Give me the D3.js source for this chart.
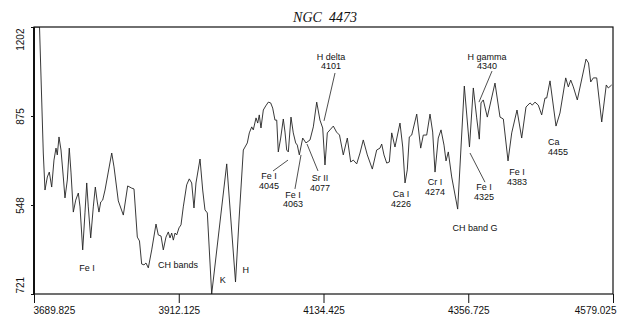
<!DOCTYPE html>
<html>
<head>
<meta charset="utf-8">
<script src="https://cdn.jsdelivr.net/npm/d3@7"></script>
<style>
  body { margin: 0; background: #fff; }
  svg text { font-family: "Liberation Sans", Arial, sans-serif; fill: #111; }
</style>
</head>
<body>
<div id="chart"></div>
<script>
// spectrum of NGC 4473, wavelength (A) and flux
const wavelength = [
  3691.4, 3698.3, 3704.1, 3706.7, 3710.3, 3713.3, 3717.0, 3720.5, 3723.6, 3725.6,
  3728.2, 3731.3, 3734.8, 3737.4, 3741.0, 3744.0, 3746.6, 3750.2, 3753.9, 3757.9,
  3760.5, 3764.6, 3768.1, 3770.8, 3773.2, 3776.9, 3780.9, 3784.0, 3787.0, 3789.6,
  3792.3, 3795.3, 3798.9, 3803.9, 3809.2, 3812.7, 3819.3, 3827.0, 3833.7, 3839.9,
  3843.4, 3848.5, 3851.8, 3855.2, 3858.8, 3861.8, 3865.4, 3870.6, 3877.2, 3880.7,
  3884.9, 3888.4, 3892.5, 3896.1, 3898.7, 3901.3, 3903.8, 3906.4, 3909.0, 3912.5,
  3915.6, 3919.1, 3924.3, 3928.3, 3932.0, 3935.5, 3938.6, 3944.8, 3948.9, 3952.4,
  3956.0, 3962.7, 3985.8, 3999.3, 4004.7, 4011.3, 4013.9, 4017.4, 4020.5, 4024.2,
  4026.6, 4030.8, 4033.4, 4035.8, 4038.4, 4042.0, 4045.7, 4049.7, 4053.3, 4056.4,
  4059.9, 4062.6, 4065.0, 4068.7, 4072.7, 4075.3, 4077.9, 4080.4, 4084.5, 4088.0,
  4091.7, 4094.2, 4097.3, 4102.5, 4107.5, 4113.7, 4118.8, 4124.0, 4129.0, 4133.2,
  4136.7, 4140.3, 4144.4, 4149.5, 4154.4, 4159.0, 4164.8, 4171.0, 4176.2, 4180.2,
  4185.4, 4190.5, 4195.5, 4201.7, 4209.4, 4216.1, 4221.2, 4223.8, 4227.3, 4231.5,
  4235.5, 4239.2, 4244.2, 4251.9, 4256.1, 4259.6, 4263.1, 4266.2, 4269.9, 4277.6,
  4283.7, 4287.7, 4292.9, 4298.0, 4302.1, 4305.7, 4310.7, 4314.9, 4319.5, 4322.6,
  4326.1, 4331.3, 4340.5, 4350.7, 4358.6, 4364.5, 4369.7, 4373.7, 4376.3, 4379.8,
  4386.0, 4397.8, 4405.5, 4410.6, 4417.8, 4423.5, 4431.6, 4438.8, 4445.4, 4451.6,
  4455.1, 4459.2, 4464.3, 4469.5, 4474.6, 4477.2, 4482.3, 4491.5, 4497.6, 4506.4,
  4510.4, 4514.1, 4518.1, 4524.2, 4537.6, 4541.4, 4544.8, 4548.8, 4554.0, 4561.7,
  4568.7, 4571.8, 4577.0
];
const flux = [
  1202, 1202, 739, 603, 651, 669, 614, 713, 757, 732,
  798, 750, 651, 574, 640, 757, 669, 522, 566, 592,
  541, 383, 519, 629, 541, 427, 541, 614, 559, 522,
  559, 566, 603, 669, 739, 688, 563, 511, 618, 610,
  607, 430, 416, 331, 328, 335, 317, 383, 478, 438,
  434, 383, 430, 449, 427, 445, 419, 445, 438, 464,
  475, 541, 622, 644, 629, 537, 629, 717, 603, 530,
  519, 221, 699, 265, 493, 750, 761, 776, 813, 835,
  824, 868, 849, 879, 831, 897, 912, 926, 923, 904,
  860, 860, 743, 794, 864, 816, 750, 743, 871, 813,
  776, 768, 732, 794, 776, 787, 835, 926, 860, 831,
  695, 813, 824, 838, 816, 805, 732, 794, 706, 713,
  699, 739, 787, 732, 680, 750, 757, 772, 732, 702,
  706, 813, 761, 849, 761, 629, 677, 798, 805, 882,
  757, 805, 805, 882, 816, 669, 794, 824, 768, 710,
  743, 651, 533, 985, 761, 978, 868, 790, 923, 934,
  871, 996, 871, 864, 710, 813, 897, 794, 908, 923,
  915, 926, 915, 879, 941, 941, 1004, 838, 886, 1015,
  982, 1007, 982, 934, 1084, 1070, 1000, 1015, 1015, 853,
  989, 978, 989
];

const xTicks = [3689.825, 3912.125, 4134.425, 4356.725, 4579.025];
const xTickLabels = ["3689.825", "3912.125", "4134.425", "4356.725", "4579.025"];
const yTicks = [1202, 875, 548, 221];
const yTickLabels = ["1202", "875", "548", "721"];

// line identifications: text lines, text anchor (wavelength, flux), optional leader line
const lineLabels = [
  {text: ["Fe I"], w: 3771.2, f: 307},
  {text: ["CH bands"], w: 3910.9, f: 315},
  {text: ["K"], w: 3979.6, f: 261},
  {text: ["H"], w: 4015.0, f: 298},
  {text: ["Fe I", "4045"], w: 4050.7, f: 643, lead: [4056.9, 673, 4079.9, 713]},
  {text: ["Fe I", "4063"], w: 4087.6, f: 574, lead: [4090.6, 607, 4099.9, 732]},
  {text: ["Sr II", "4077"], w: 4129.0, f: 636, lead: [4126.0, 673, 4109.1, 772]},
  {text: ["H delta", "4101"], w: 4145.9, f: 1081, lead: [4152.1, 1033, 4135.2, 857]},
  {text: ["Ca I", "4226"], w: 4253.4, f: 576},
  {text: ["Cr I", "4274"], w: 4305.6, f: 621},
  {text: ["CH band G"], w: 4367.0, f: 452},
  {text: ["Fe I", "4325"], w: 4380.9, f: 603, lead: [4382.4, 632, 4359.4, 739]},
  {text: ["Fe I", "4383"], w: 4431.6, f: 658},
  {text: ["H gamma", "4340"], w: 4385.5, f: 1081, lead: [4393.2, 1040, 4373.2, 926]},
  {text: ["Ca", "4455"], w: 4479.2, f: 768, anchor: "start"}
];

const width = 627, height = 319;
const margin = {top: 27, right: 14, bottom: 25, left: 34};

const svg = d3.select("#chart")
  .append("svg")
  .attr("width", width)
  .attr("height", height);

const x = d3.scaleLinear()
  .domain([xTicks[0], xTicks[xTicks.length - 1]])
  .range([margin.left, width - margin.right]);

const y = d3.scaleLinear()
  .domain([221, 1202])
  .range([height - margin.bottom, margin.top]);

svg.append("clipPath").attr("id", "plot-clip")
  .append("rect")
  .attr("x", margin.left).attr("y", margin.top)
  .attr("width", width - margin.left - margin.right)
  .attr("height", height - margin.top - margin.bottom);

// title
svg.append("text")
  .attr("x", 325).attr("y", 22)
  .attr("text-anchor", "middle")
  .style("font-family", "'Liberation Serif', 'Times New Roman', serif")
  .style("font-style", "italic")
  .style("font-size", "14px")
  .style("white-space", "pre")
  .text("NGC  4473");

// spectrum
const points = wavelength.map((w, i) => [w, flux[i]]);
const line = d3.line().x(d => x(d[0])).y(d => y(d[1]));

svg.append("path")
  .attr("clip-path", "url(#plot-clip)")
  .attr("fill", "none")
  .attr("stroke", "#222")
  .attr("stroke-width", 0.9)
  .attr("stroke-linejoin", "round")
  .attr("d", line(points));

// frame
svg.append("rect")
  .attr("x", margin.left).attr("y", margin.top)
  .attr("width", width - margin.left - margin.right)
  .attr("height", height - margin.top - margin.bottom)
  .attr("fill", "none")
  .attr("stroke", "#111")
  .attr("stroke-width", 1.2);

svg.append("line")
  .attr("x1", margin.left).attr("x2", margin.left)
  .attr("y1", margin.top).attr("y2", height - margin.bottom)
  .attr("stroke", "#111").attr("stroke-width", 2);

// x axis
const xAxis = d3.axisBottom(x)
  .tickValues(xTicks)
  .tickSize(9)
  .tickFormat((d, i) => xTickLabels[i]);

const gx = svg.append("g")
  .attr("transform", `translate(0,${height - margin.bottom})`)
  .call(xAxis);
gx.select(".domain").remove();
gx.selectAll(".tick line").attr("stroke", "#111");
gx.selectAll(".tick text")
  .attr("y", 13)
  .style("font-size", "10px")
  .attr("text-anchor", (d, i) => i === 0 ? "start" : (i === xTicks.length - 1 ? "end" : "middle"))
  .attr("dx", (d, i) => i === 0 ? -1 : (i === xTicks.length - 1 ? 3 : 0));

// y axis
const yAxis = d3.axisLeft(y)
  .tickValues(yTicks)
  .tickSize(3)
  .tickFormat((d, i) => yTickLabels[i]);

const gy = svg.append("g")
  .attr("transform", `translate(${margin.left},0)`)
  .call(yAxis);
gy.select(".domain").remove();
gy.selectAll(".tick line").attr("stroke", "#111");
gy.selectAll(".tick text")
  .attr("x", null).attr("dy", null)
  .attr("transform", "translate(-10,0) rotate(-90)")
  .style("font-size", "10px")
  .attr("text-anchor", (d, i) => i === 0 ? "end" : (i === yTicks.length - 1 ? "start" : "middle"))
  .attr("x", (d, i) => i === 0 ? -1 : (i === yTicks.length - 1 ? 1 : 0));

// line identifications
const ann = svg.append("g")
  .style("font-size", "9px");

ann.selectAll("line")
  .data(lineLabels.filter(d => d.lead))
  .join("line")
  .attr("x1", d => x(d.lead[0])).attr("y1", d => y(d.lead[1]))
  .attr("x2", d => x(d.lead[2])).attr("y2", d => y(d.lead[3]))
  .attr("stroke", "#222")
  .attr("stroke-width", 0.8);

const labels = ann.selectAll("text")
  .data(lineLabels)
  .join("text")
  .attr("text-anchor", d => d.anchor || "middle")
  .attr("transform", d => `translate(${x(d.w)},${y(d.f)})`);

labels.selectAll("tspan")
  .data(d => d.text)
  .join("tspan")
  .attr("x", 0)
  .attr("y", (d, i) => i * 9.5)
  .text(d => d);
</script>
</body>
</html>
